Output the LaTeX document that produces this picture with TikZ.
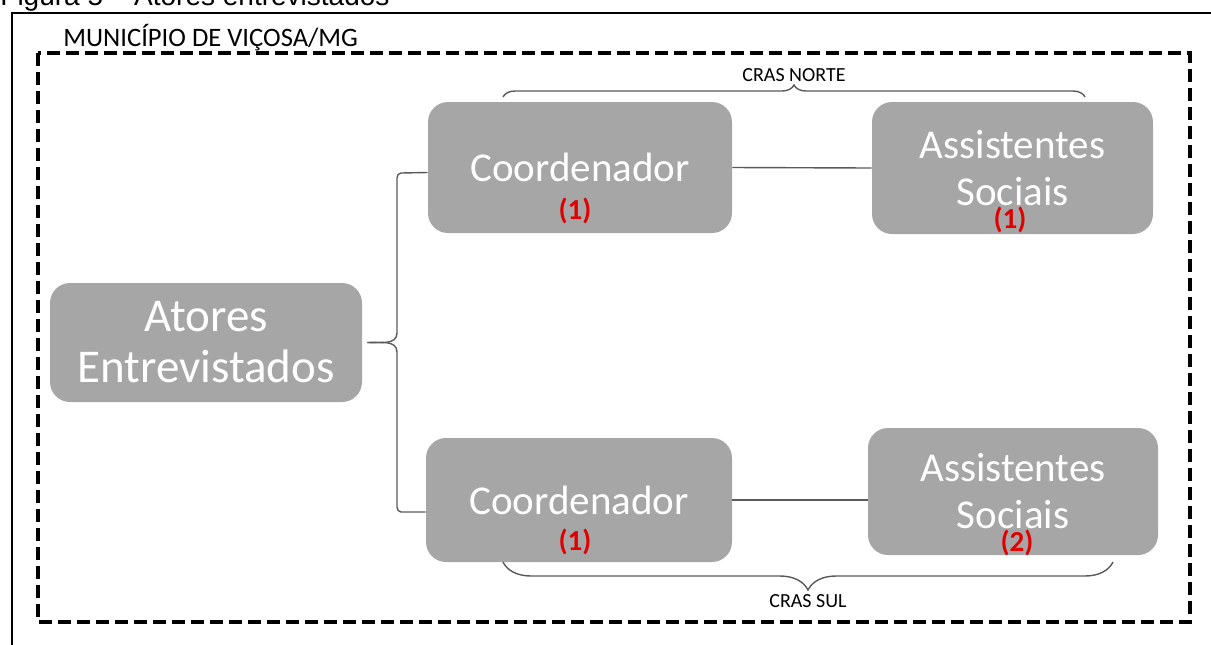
\documentclass[tikz,border=0pt]{standalone}
\usepackage{fontspec}
\setmainfont{Carlito}
\newfontfamily\captionfont{Liberation Sans}
\usetikzlibrary{decorations.pathreplacing}

\definecolor{boxgray}{HTML}{A6A6A6}
\definecolor{countred}{HTML}{E00000}
\definecolor{linegray}{HTML}{595959}

\tikzset{
  box/.style={fill=boxgray, rounded corners=10pt, text=white, align=center,
    inner sep=0pt, font=\fontsize{20.5}{23.5}\selectfont},
  count/.style={text=countred, anchor=base, inner sep=0pt,
    font=\bfseries\fontsize{14.5}{16}\selectfont},
  link/.style={draw=linegray, line width=0.7pt},
  crasbrace/.style={draw=linegray, line width=0.7pt, decorate},
  craslabel/.style={anchor=base, inner sep=0pt, font=\fontsize{10}{12}\selectfont}
}

\begin{document}
\begin{tikzpicture}[x=0.5pt, y=-0.5pt]
        \useasboundingbox (0,0) rectangle (1211,644);

        % caption and outer frame
        \node[anchor=base west, inner sep=0pt, font=\captionfont\fontsize{14}{16}\selectfont] (caption) at (0,5) {Figura 5 – Atores entrevistados};
        \draw[line width=0.8pt] (1240,13) -- (12,13) -- (12,670);

        % municipio
        \draw[line width=2pt, dash pattern=on 6.5pt off 3pt] (38,53) rectangle (1190,622);
        \node[anchor=base west, inner sep=0pt, font=\fontsize{13.3}{15}\selectfont] (municipio) at (63,46) {MUNICÍPIO DE VIÇOSA/MG};

        \node[box, minimum width=156pt, minimum height=59.5pt, font=\fontsize{23.5}{25.5}\selectfont] (atores) at (206,342.5) {Atores\\Entrevistados};

        % CRAS norte
        \node[box, minimum width=152pt, minimum height=65.5pt] (coordnorte) at (580,167.5) {Coordenador};
        \node[count] (ncoordnorte) at (575,219) {(1)};
        \node[box, minimum width=140.5pt, minimum height=66pt] (assistnorte) at (1012.5,168) {Assistentes\\Sociais};
        \node[count] (nassistnorte) at (1010,228) {(1)};
        \draw[link] (coordnorte.east) -- (assistnorte.west);

        % CRAS sul
        \node[box, minimum width=153pt, minimum height=62pt] (coordsul) at (579,500) {Coordenador};
        \node[count] (ncoordsul) at (575,550) {(1)};
        \node[box, minimum width=145pt, minimum height=63.5pt] (assistsul) at (1013,491.5) {Assistentes\\Sociais};
        \node[count] (nassistsul) at (1017,551) {(2)};
        \draw[link] (coordsul.east) -- (coordsul.east -| assistsul.west);

        % chave dos atores
        \coordinate (tip) at ([xshift=2.5pt]atores.east);
        \draw[link] (tip) to[out=0,in=90] (397,352) -- (397,507) to[out=-90,in=180] (401,512) -- ([yshift=-6pt]coordsul.west);
        \draw[link] (tip) to[out=0,in=-90] (397,333) -- (397,178) to[out=90,in=180] (401,173) -- ([yshift=-2.5pt]coordnorte.west);

        % chaves dos CRAS
        \coordinate (nortel) at (503,97);
        \coordinate (norter) at (1085,97);
        \draw[crasbrace, decoration={brace, amplitude=6pt}] (nortel) -- (norter)
          node[craslabel, midway, yshift=8pt] (crasnorte) {CRAS NORTE};
        \coordinate (sull) at (503,562);
        \coordinate (sulr) at (1113,562);
        \draw[crasbrace, decoration={brace, amplitude=14pt}] (sulr) -- (sull)
          node[craslabel, midway, yshift=-22.5pt] (crassul) {CRAS SUL};
      \end{tikzpicture}
\end{document}
